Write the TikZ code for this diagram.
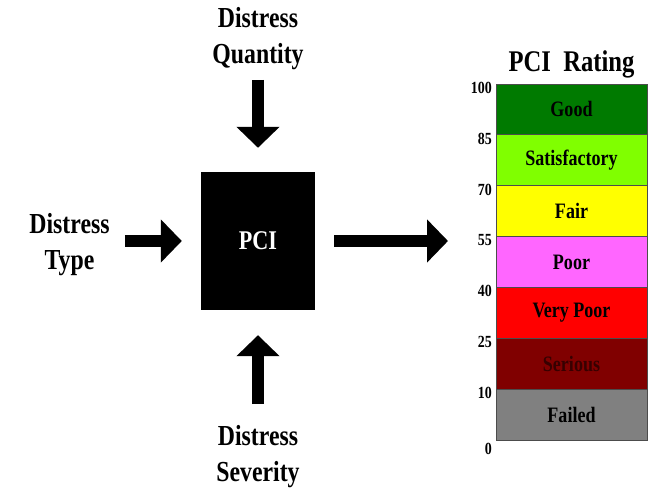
\documentclass[tikz,border=0pt]{standalone}
\usepackage{fontspec}
\setmainfont[FakeStretch=0.82]{Liberation Serif}
\usetikzlibrary{positioning, arrows.meta}
\definecolor{good}{RGB}{0,122,0}
\definecolor{satis}{RGB}{128,255,0}
\definecolor{fair}{RGB}{255,255,0}
\definecolor{poor}{RGB}{255,102,255}
\definecolor{verypoor}{RGB}{255,0,0}
\definecolor{serious}{RGB}{128,0,0}
\definecolor{failed}{RGB}{128,128,128}

\begin{document}
\begin{tikzpicture}[x=1bp, y=1bp, node distance=0pt,
	inputlabel/.style={align=center, inner sep=0pt, font=\fontsize{29bp}{36bp}\bfseries},
	bigarrow/.style={line width=12bp, -{Triangle[width=42bp,length=21bp]}},
	band/.style={draw=black!70, line width=0.8bp, minimum width=151bp, minimum height=50.86bp, inner sep=0pt, outer sep=0pt, font=\fontsize{22bp}{26bp}\bfseries},
	tick/.style={inner sep=0pt, anchor=north east, font=\fontsize{17bp}{20bp}\bfseries}]
	\useasboundingbox (0,0) rectangle (656,488);

	\node[fill=black, text=white, minimum width=114bp, minimum height=138bp, inner sep=0pt, font=\fontsize{27bp}{32bp}\bfseries] (pci) at (258,247) {PCI};
	\node[inputlabel, above=102bp of pci] (qty) {Distress\\Quantity};
	\node[inputlabel, below=115bp of pci] (sev) {Distress\\Severity};
	\node[inputlabel, left=91bp of pci, yshift=-4bp] (type) {Distress\\Type};

	% rating scale
	\node[band, fill=good, anchor=north west] (good) at (496,404) {Good};
	\node[band, fill=satis, below=of good] (satis) {Satisfactory};
	\node[band, fill=fair, below=of satis] (fair) {Fair};
	\node[band, fill=poor, below=of fair] (poor) {Poor};
	\node[band, fill=verypoor, below=of poor] (verypoor) {Very Poor};
	\node[band, fill=serious, text={rgb,255:red,55;green,0;blue,0}, below=of verypoor] (serious) {Serious};
	\node[band, fill=failed, below=of serious] (failed) {Failed};
	\node[inner sep=0pt, font=\fontsize{30bp}{34bp}\bfseries, above=6bp of good] (title) {PCI\ \ Rating};

	\node[tick] (t100) at ([xshift=-4bp, yshift=2bp]good.north west) {100};
	\node[tick] (t85) at ([xshift=-4bp, yshift=2bp]satis.north west) {85};
	\node[tick] (t70) at ([xshift=-4bp, yshift=2bp]fair.north west) {70};
	\node[tick] (t55) at ([xshift=-4bp, yshift=2bp]poor.north west) {55};
	\node[tick] (t40) at ([xshift=-4bp, yshift=2bp]verypoor.north west) {40};
	\node[tick] (t25) at ([xshift=-4bp, yshift=2bp]serious.north west) {25};
	\node[tick] (t10) at ([xshift=-4bp, yshift=2bp]failed.north west) {10};
	\node[tick] (t0) at ([xshift=-4bp, yshift=-3bp]failed.south west) {0};

	\path[bigarrow] (qty) edge[shorten <=10bp, shorten >=24bp] (pci)
	(sev) edge[shorten <=21bp, shorten >=25bp] (pci)
	(type.east |- pci) edge[shorten <=15bp, shorten >=19bp] (pci)
	(pci) edge[shorten <=19bp, shorten >=48bp] (pci -| good.west)
	;
\end{tikzpicture}
\end{document}
